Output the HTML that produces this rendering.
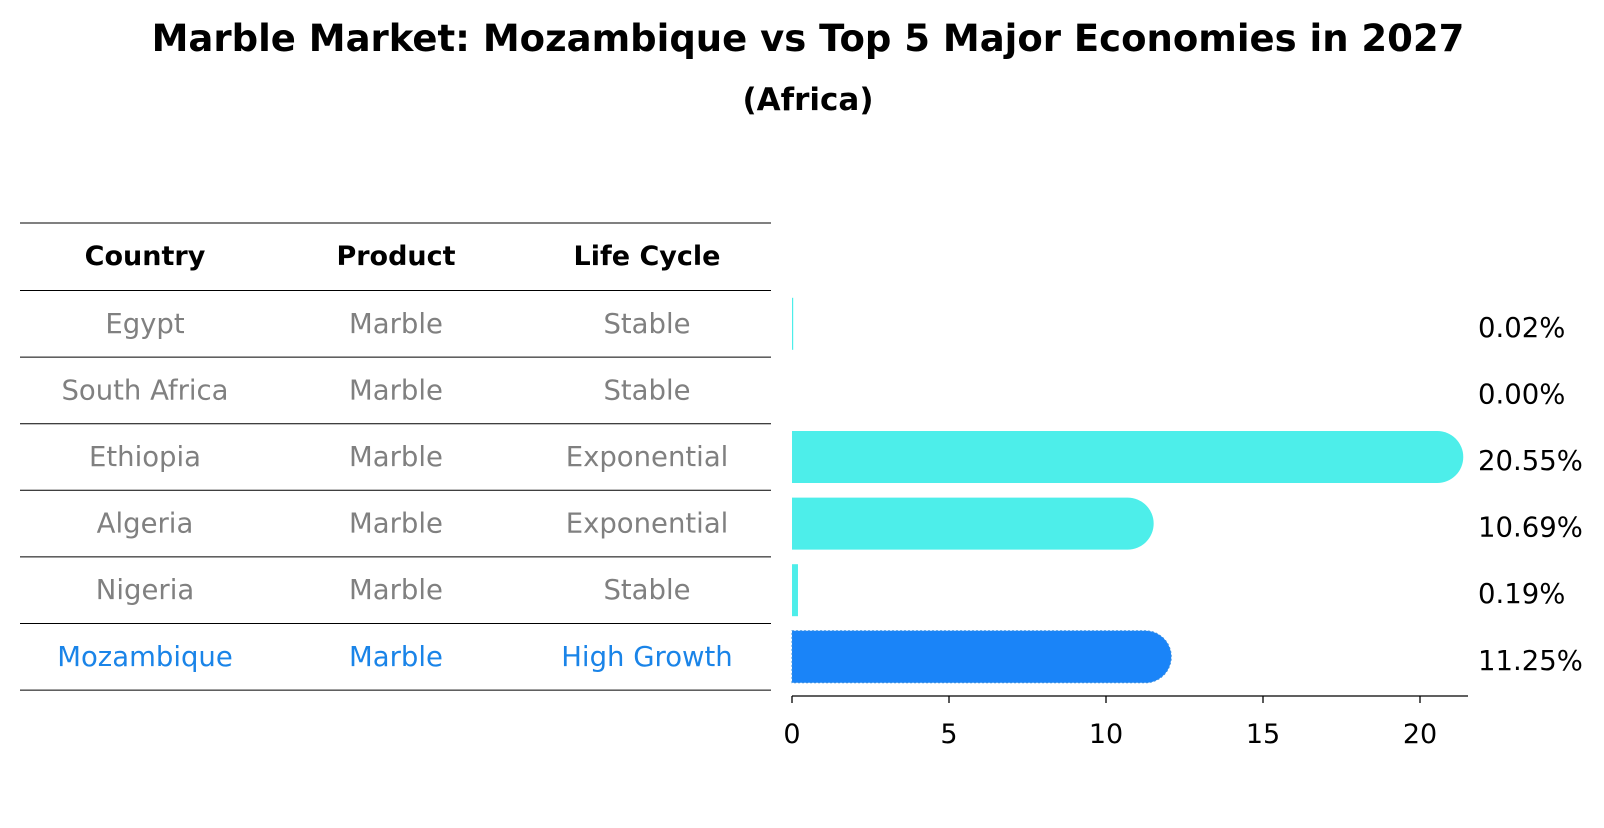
<!DOCTYPE html>
<html><head><meta charset="utf-8"><style>
body{margin:0;background:#fff;font-family:"Liberation Sans","DejaVu Sans",sans-serif}
svg text{font-family:"DejaVu Sans","Liberation Sans",sans-serif}
</style></head><body>
<svg id="c" width="1604" height="823" xmlns="http://www.w3.org/2000/svg">
<text x="808" y="51" text-anchor="middle" font-size="37" font-weight="bold">Marble Market: Mozambique vs Top 5 Major Economies in 2027</text>
<text x="808" y="110" text-anchor="middle" font-size="31" font-weight="bold">(Africa)</text>
<g id="tbl"></g>
<g id="bars"></g>
</svg>
<script>
const countries=["Egypt","South Africa","Ethiopia","Algeria","Nigeria","Mozambique"];
const products=["Marble","Marble","Marble","Marble","Marble","Marble"];
const cycles=["Stable","Stable","Exponential","Exponential","Stable","High Growth"];
const values=[0.02,0.00,20.55,10.69,0.19,11.25];
const ticks=[0,5,10,15,20];
const NS="http://www.w3.org/2000/svg";
function mk(t,a,p){const e=document.createElementNS(NS,t);for(const k in a)e.setAttribute(k,a[k]);p.appendChild(e);return e;}
const tbl=document.getElementById('tbl'),bars=document.getElementById('bars');
const x0=792,pxPer=31.4,rowTop=290.5,rowH=66.6,barH=52;
const xs=v=>x0+v*pxPer;
const rowC=i=>rowTop+rowH*(i+0.5);
const cols=[145,396,647];
const lineYs=[223];for(let i=0;i<=countries.length;i++)lineYs.push(rowTop+rowH*i);
lineYs.forEach((y,i)=>{const l=mk('line',{x1:20,x2:771,y1:y,y2:y,stroke:'#000','stroke-width':1},tbl);

});
['Country','Product','Life Cycle'].forEach((h,j)=>{const t=mk('text',{x:cols[j],y:265,'text-anchor':'middle','font-size':27,'font-weight':'bold'},tbl);t.textContent=h;

});
countries.forEach((c,i)=>{const col=i===countries.length-1?'#1a84e8':'#808080';
[c,products[i],cycles[i]].forEach((v,j)=>{const t=mk('text',{x:cols[j],y:rowC(i)+9,'text-anchor':'middle','font-size':27.5,fill:col},tbl);t.textContent=v;

});});
values.forEach((v,i)=>{const last=i===values.length-1;const col=last?'#1a84f8':'#4deeea';
const y=rowC(i)-barH/2,w=xs(v)-x0;
if(v>0){const g=mk('g',{},bars);


if(w>barH/2){mk('path',{d:`M${x0},${y}H${xs(v)}A${barH/2},${barH/2} 0 0 1 ${xs(v)},${y+barH}H${x0}Z`,fill:col,stroke:last?'#3a8fe0':'none','stroke-dasharray':last?'2,2':'none','stroke-width':1},g);}
else{mk('rect',{x:x0,y:y,width:Math.max(w,1.2),height:barH,fill:col},g);}}
const t=mk('text',{x:1478,y:rowC(i)+13,'font-size':27.5},bars);t.textContent=v.toFixed(2)+'%';

});
const ax=mk('line',{x1:x0,x2:1468,y1:696,y2:696,stroke:'#000','stroke-width':1.3},bars);


ticks.forEach(tv=>{const l=mk('line',{x1:xs(tv),x2:xs(tv),y1:696,y2:703,stroke:'#000','stroke-width':1.3},bars);


const t=mk('text',{x:xs(tv),y:743,'text-anchor':'middle','font-size':27},bars);t.textContent=tv;

});
</script>
</body></html>
